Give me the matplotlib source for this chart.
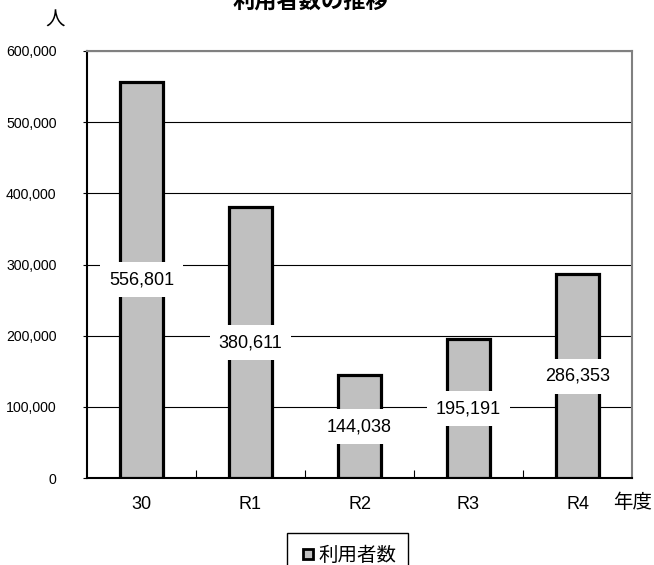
import matplotlib
matplotlib.use('Agg')
import matplotlib.pyplot as plt
import numpy as np
from matplotlib.ticker import FuncFormatter
from matplotlib.lines import Line2D

plt.rcParams['font.family'] = ['Liberation Sans', 'Noto Sans CJK JP', 'DejaVu Sans']
jp = ['Noto Sans CJK JP', 'DejaVu Sans']

years = ['30', 'R1', 'R2', 'R3', 'R4']
users = [556801, 380611, 144038, 195191, 286353]

fig = plt.figure(figsize=(6.54, 5.65), dpi=100)
ax = fig.add_axes([87/654, 87/565, 545/654, 427/565])

x = np.arange(len(years))
ax.bar(x, users, width=0.4, color='#c0c0c0', edgecolor='black', linewidth=2.3, zorder=3)
# value labels sit at the middle of each bar on a white box
for xi, v in zip(x, users):
    ax.text(xi, v/2, f'{v:,}', ha='center', va='center', fontsize=13,
            bbox=dict(facecolor='white', edgecolor='none', pad=6.5), zorder=4)

ax.set_xlim(-0.5, len(years)-0.5)
ax.set_ylim(0, 600000)
ax.set_yticks(np.arange(0, 600001, 100000))
ax.yaxis.set_major_formatter(FuncFormatter(lambda v, p: f'{int(v):,}'))
ax.grid(axis='y', color='black', linewidth=0.8, zorder=0)
ax.set_xticks(x)
ax.set_xticklabels(years)
ax.set_xticks(np.arange(0.5, len(years)-1, 1), minor=True)
ax.tick_params(axis='x', which='major', length=0, pad=13, labelsize=13)
ax.tick_params(axis='x', which='minor', direction='in', length=6, width=0.8)
ax.tick_params(axis='y', length=3, width=0.8, pad=19, labelsize=10.2)

for s in ['top', 'right']:
    ax.spines[s].set_color('#808080')
    ax.spines[s].set_linewidth(1.5)
ax.spines['left'].set_linewidth(1.5)
ax.spines['bottom'].set_linewidth(1.5)

fig.text(310/654, 1 - 1/565, '利用者数の推移', ha='center', va='center', fontsize=16,
         fontweight='bold', family=jp)
fig.text(55/654, 1 - 20/565, '人', ha='center', va='center', fontsize=14, family=jp)
fig.text(633/654, 1 - 502/565, '年度', ha='center', va='center', fontsize=14, family=jp)

h = Line2D([], [], marker='s', linestyle='none', markersize=7.5,
           markerfacecolor='#c0c0c0', markeredgecolor='black', markeredgewidth=2)
fig.legend([h], ['利用者数'], loc='upper left', bbox_to_anchor=(287/654, 1 - 533/565),
           frameon=True, fancybox=False, edgecolor='black', framealpha=1,
           prop={'family': jp, 'size': 14},
           handletextpad=0.0, borderpad=0.6, handlelength=1.0, borderaxespad=0)

fig.savefig('out.png', dpi=100)
